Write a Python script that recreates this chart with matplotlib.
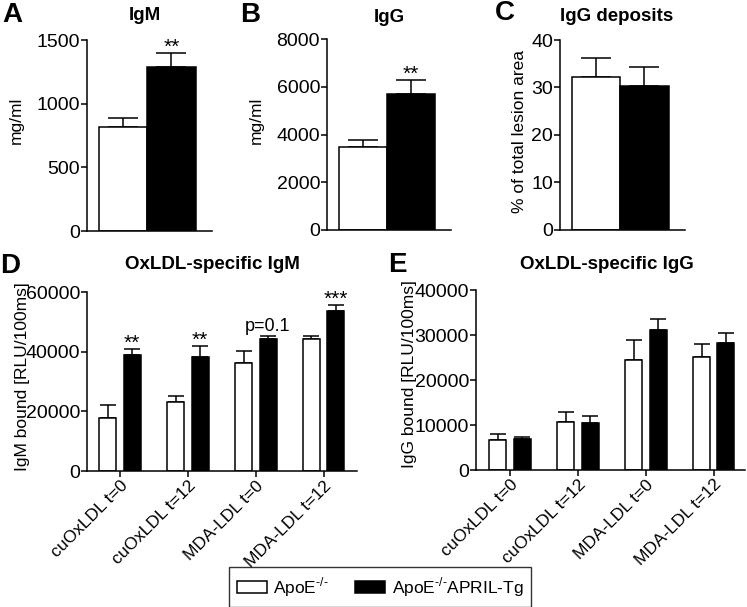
import numpy as np
import matplotlib
matplotlib.use("Agg")
import matplotlib.pyplot as plt
from matplotlib.patches import Patch

plt.rcParams['font.family'] = ['Liberation Sans', 'DejaVu Sans']
plt.rcParams['mathtext.fontset'] = 'custom'
plt.rcParams['mathtext.rm'] = 'Liberation Sans'

# total antibody levels (mean, sem)
groups = ['ApoE-/-', 'ApoE-/-APRIL-Tg']
igm_mean = [815, 1290]
igm_sem = [76, 110]
igg_mean = [3470, 5710]
igg_sem = [300, 580]
dep_mean = [32.2, 30.3]
dep_sem = [4.1, 4.1]

# oxLDL specific antibodies
antigens = ['cuOxLDL t=0', 'cuOxLDL t=12', 'MDA-LDL t=0', 'MDA-LDL t=12']
oxigm_ko = [17700, 23100, 36200, 44400]
oxigm_ko_sem = [4500, 2000, 4100, 900]
oxigm_tg = [39000, 38100, 44200, 53700]
oxigm_tg_sem = [1900, 3900, 900, 2000]
oxigm_stars = ['**', '**', 'p=0.1', '***']

oxigg_ko = [6600, 10700, 24500, 25100]
oxigg_ko_sem = [1500, 2200, 4400, 2900]
oxigg_tg = [7000, 10400, 31100, 28300]
oxigg_tg_sem = [400, 1700, 2400, 2200]

TICK = 14
LAB = 12.5
LW = 1.1

fig = plt.figure(figsize=(7.47, 6.07), dpi=100)


def style(ax):
    for s in ['top', 'right']:
        ax.spines[s].set_visible(False)
    for s in ['left', 'bottom']:
        ax.spines[s].set_linewidth(LW)
    ax.tick_params(axis='y', direction='out', length=4, width=LW, labelsize=TICK, pad=1)
    ax.tick_params(axis='x', direction='out', length=4, width=LW, labelsize=LAB, pad=1)


def two_bar(rect, means, sems, ylim, yticks, title, tx, tpad, ylabel, lx, ly, star=None):
    ax = fig.add_axes(rect)
    x = np.arange(2)
    ax.errorbar(x, means, yerr=[np.zeros(2), sems], fmt='none', ecolor='black',
                elinewidth=LW, capsize=10.5, capthick=LW, zorder=1)
    ax.bar(x, means, width=1.0, color=['white', 'black'], edgecolor='black', linewidth=LW, zorder=2)
    ax.set_xlim(-0.74, 1.84)
    ax.set_ylim(*ylim)
    ax.set_yticks(yticks)
    ax.set_xticks([])
    style(ax)
    ax.set_title(title, fontsize=13.5, fontweight='bold', x=tx, pad=tpad)
    ax.set_ylabel(ylabel, fontsize=LAB)
    ax.yaxis.set_label_coords(lx, ly)
    if star:
        ax.annotate(star, (1, means[1] + sems[1]), xytext=(0, 0), textcoords='offset points',
                    ha='center', va='baseline', fontsize=15)
    return ax


two_bar([0.1165, 0.6194, 0.1673, 0.3146], igm_mean, igm_sem, (0, 1500), [0, 500, 1000, 1500],
        'IgM', 0.464, 14.4, 'mg/ml', -0.508, 0.58, '**')
two_bar([0.4378, 0.6211, 0.166, 0.3146], igg_mean, igg_sem, (0, 8000), [0, 2000, 4000, 6000, 8000],
        'IgG', 0.5, 12.2, 'mg/ml', -0.514, 0.576, '**')
two_bar([0.7497, 0.6211, 0.1673, 0.313], dep_mean, dep_sem, (0, 40), [0, 10, 20, 30, 40],
        'IgG deposits', 0.456, 13.7, '% of total lesion area', -0.264, 0.517)


def group_bar(rect, ko, ko_sem, tg, tg_sem, ylim, yticks, title, tx, tpad, ylabel, lx, ly, xlim, stars=None):
    ax = fig.add_axes(rect)
    x = np.arange(len(antigens))
    off = 0.18
    w = 0.25
    ax.errorbar(x - off, ko, yerr=[np.zeros(4), ko_sem], fmt='none', ecolor='black',
                elinewidth=LW, capsize=5.5, capthick=LW, zorder=1)
    ax.errorbar(x + off, tg, yerr=[np.zeros(4), tg_sem], fmt='none', ecolor='black',
                elinewidth=LW, capsize=5.5, capthick=LW, zorder=1)
    ax.bar(x - off, ko, width=w, color='white', edgecolor='black', linewidth=LW, zorder=2)
    ax.bar(x + off, tg, width=w, color='black', edgecolor='black', linewidth=LW, zorder=2)
    ax.set_xlim(*xlim)
    ax.set_ylim(*ylim)
    ax.set_yticks(yticks)
    ax.set_xticks(x)
    ax.set_xticklabels(antigens, rotation=45, ha='right', va='top', rotation_mode='anchor')
    style(ax)
    ax.set_title(title, fontsize=13.5, fontweight='bold', x=tx, pad=tpad)
    ax.set_ylabel(ylabel, fontsize=LAB)
    ax.yaxis.set_label_coords(lx, ly)
    if stars:
        for i, s in enumerate(stars):
            if s.startswith('p'):
                ax.annotate(s, (i + off, tg[i] + tg_sem[i]), xytext=(0, 4), textcoords='offset points',
                            ha='center', va='baseline', fontsize=13)
            else:
                ax.annotate(s, (i + off, tg[i] + tg_sem[i]), xytext=(0, 0), textcoords='offset points',
                            ha='center', va='baseline', fontsize=15)
    return ax


group_bar([0.1165, 0.224, 0.3614, 0.2949], oxigm_ko, oxigm_ko_sem, oxigm_tg, oxigm_tg_sem,
          (0, 60000), [0, 20000, 40000, 60000], 'OxLDL-specific IgM', 0.463, 16.6,
          'IgM bound [RLU/100ms]', -0.21, 0.53, (-0.485, 3.49), oxigm_stars)
group_bar([0.6372, 0.2257, 0.3601, 0.2965], oxigg_ko, oxigg_ko_sem, oxigg_tg, oxigg_tg_sem,
          (0, 40000), [0, 10000, 20000, 30000, 40000], 'OxLDL-specific IgG', 0.487, 15,
          'IgG bound [RLU/100ms]', -0.219, 0.533, (-0.5, 3.46))

# panel letters
for letter, x, y in [('A', 2, 22), ('B', 240, 22), ('C', 495, 20), ('D', 0, 273), ('E', 388, 272)]:
    fig.text(x / 747, 1 - y / 607, letter, fontsize=20, fontweight='bold', va='baseline', ha='left')

# legend
handles = [Patch(facecolor='white', edgecolor='black', linewidth=LW),
           Patch(facecolor='black', edgecolor='black', linewidth=LW)]
labels = [r'ApoE$^{\text{-/-}}$', r'ApoE$^{\text{-/-}}$APRIL-Tg']
leg = fig.legend(handles, labels, loc='center', bbox_to_anchor=(0.509, 0.033), ncol=2,
                 fontsize=12.5, frameon=True, fancybox=False, edgecolor='black',
                 handlelength=1.7, handleheight=0.75, handletextpad=0.4, columnspacing=1.5,
                 borderpad=0.45)
leg.get_frame().set_linewidth(1.0)

plt.savefig('out.png', dpi=100)
